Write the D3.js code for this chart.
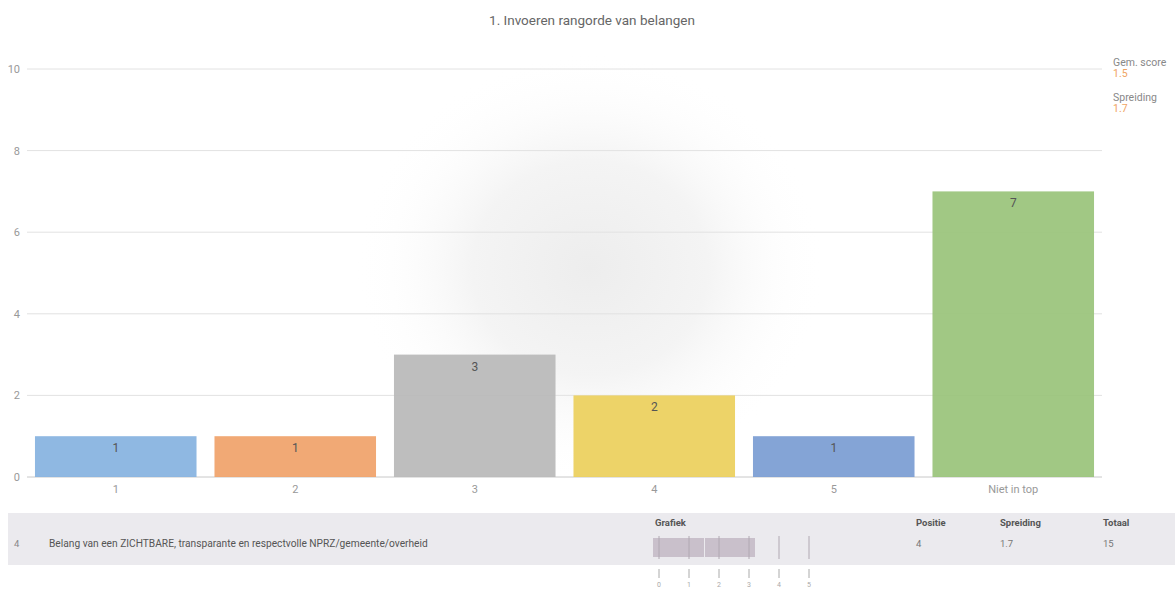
<!DOCTYPE html>
<html>
<head>
<meta charset="utf-8">
<script src="https://cdn.jsdelivr.net/npm/d3@7"></script>
<style>
  body { margin: 0; background: #fff; font-family: Roboto, "Noto Sans", sans-serif; }
  svg { display: block; }
</style>
</head>
<body>
<svg id="chart" width="1175" height="589"></svg>
<script>
var categories = ["1", "2", "3", "4", "5", "Niet in top"];
var counts = [1, 1, 3, 2, 1, 7];
var barColors = ["#86b3e0", "#f0a26a", "#b9b9b9", "#ecd05c", "#7b9dd3", "#9ac47b"];
var yTicks = [0, 2, 4, 6, 8, 10];
var title = "1. Invoeren rangorde van belangen";

var gemScore = 1.5;
var spreiding = 1.7;
var positie = 4;
var totaal = 15;
var belang = "Belang van een ZICHTBARE, transparante en respectvolle NPRZ/gemeente/overheid";
var tableHeads = ["Positie", "Spreiding", "Totaal"];
var tableVals = [positie, spreiding, totaal];
var miniTicks = [0, 1, 2, 3, 4, 5];

var svg = d3.select("#chart");

// soft shadow blob behind the plot
var defs = svg.append("defs");
var grad = defs.append("radialGradient").attr("id", "blob");
grad.append("stop").attr("offset", "0%").attr("stop-color", "#ededed");
grad.append("stop").attr("offset", "50%").attr("stop-color", "#f4f4f4");
grad.append("stop").attr("offset", "100%").attr("stop-color", "#fff").attr("stop-opacity", 0);
svg.append("ellipse")
  .attr("cx", 590).attr("cy", 268)
  .attr("rx", 235).attr("ry", 215)
  .attr("fill", "url(#blob)");

svg.append("text")
  .attr("x", 592).attr("y", 25)
  .attr("text-anchor", "middle")
  .style("font-size", "13.5px")
  .style("fill", "#666")
  .text(title);

var x = d3.scaleBand().domain(categories)
  .range([26, 1103])
  .paddingInner(0.1)
  .paddingOuter(0.05);

var y = d3.scaleLinear().domain([0, 10])
  .range([477, 69]);

// gridlines
svg.append("g").selectAll("line")
  .data(yTicks)
  .enter()
  .append("line")
    .attr("x1", 27).attr("x2", 1102)
    .attr("y1", function(d) { return y(d) })
    .attr("y2", function(d) { return y(d) })
    .attr("stroke", function(d) { return d == 0 ? "#c8c8c8" : "#e2e2e2" })
    .attr("stroke-width", 1);

svg.append("g").selectAll("text")
  .data(yTicks)
  .enter()
  .append("text")
    .attr("x", 20)
    .attr("y", function(d) { return y(d) + 4 })
    .attr("text-anchor", "end")
    .style("font-size", "11px")
    .style("fill", "#999")
    .text(function(d) { return d });

var data = categories.map(function(c, i) {
  return { cat: c, value: counts[i], color: barColors[i] };
});

svg.append("g").selectAll("rect")
  .data(data)
  .enter()
  .append("rect")
    .attr("x", function(d) { return x(d.cat) })
    .attr("y", function(d) { return y(d.value) })
    .attr("width", x.bandwidth())
    .attr("height", function(d) { return y(0) - y(d.value) })
    .attr("fill", function(d) { return d.color })
    .attr("fill-opacity", 0.93);

svg.append("g").selectAll("text")
  .data(data)
  .enter()
  .append("text")
    .attr("x", function(d) { return x(d.cat) + x.bandwidth() / 2 })
    .attr("y", function(d) { return y(d.value) + 16 })
    .attr("text-anchor", "middle")
    .style("font-size", "12px")
    .style("fill", "#555")
    .text(function(d) { return d.value });

svg.append("g").selectAll("text")
  .data(categories)
  .enter()
  .append("text")
    .attr("x", function(d) { return x(d) + x.bandwidth() / 2 })
    .attr("y", 493)
    .attr("text-anchor", "middle")
    .style("font-size", "11px")
    .style("fill", "#999")
    .text(function(d) { return d });

// legend on the right
var legend = [["Gem. score", gemScore], ["Spreiding", spreiding]];
var lg = svg.append("g").selectAll("g")
  .data(legend)
  .enter()
  .append("g")
    .attr("transform", function(d, i) { return "translate(1113," + (66 + i * 35) + ")" });
lg.append("text")
  .style("font-size", "10.5px").style("fill", "#888")
  .text(function(d) { return d[0] });
lg.append("text")
  .attr("y", 11)
  .style("font-size", "10.5px").style("fill", "#f0a462")
  .text(function(d) { return d[1] });

// table row
svg.append("rect")
  .attr("x", 8).attr("y", 513)
  .attr("width", 1167).attr("height", 52)
  .attr("fill", "#ebeaee");

svg.append("text")
  .attr("x", 14).attr("y", 547)
  .style("font-size", "9.5px").style("fill", "#888")
  .text(positie);
svg.append("text")
  .attr("x", 49).attr("y", 547)
  .style("font-size", "10.2px").style("fill", "#555")
  .text(belang);

svg.append("text")
  .attr("x", 655).attr("y", 526)
  .style("font-size", "9.5px").style("font-weight", "bold").style("fill", "#555")
  .text("Grafiek");

var colX = [916, 1000, 1103];
tableHeads.forEach(function(h, i) {
  svg.append("text")
    .attr("x", colX[i]).attr("y", 526)
    .style("font-size", "9.5px").style("font-weight", "bold").style("fill", "#555")
    .text(h);
  svg.append("text")
    .attr("x", colX[i]).attr("y", 547)
    .style("font-size", "9.5px").style("fill", "#777")
    .text(tableVals[i]);
});

// mini chart: mean +/- spread
var mx = d3.scaleLinear().domain([0, 5]).range([659, 809]);
var mini = svg.append("g");
mini.append("rect")
  .attr("x", mx(gemScore - spreiding)).attr("y", 538)
  .attr("width", mx(gemScore) - mx(gemScore - spreiding)).attr("height", 19)
  .attr("fill", "#c9c0cb");
mini.append("rect")
  .attr("x", mx(gemScore) + 1).attr("y", 538)
  .attr("width", mx(gemScore + spreiding) - mx(gemScore) - 1).attr("height", 19)
  .attr("fill", "#c9c0cb");
mini.selectAll(".in")
  .data(miniTicks)
  .enter()
  .append("line")
    .attr("x1", function(d) { return mx(d) }).attr("x2", function(d) { return mx(d) })
    .attr("y1", 536).attr("y2", 559)
    .attr("stroke", "#b0a8b2").attr("stroke-width", 1);
mini.selectAll(".out")
  .data(miniTicks)
  .enter()
  .append("line")
    .attr("x1", function(d) { return mx(d) }).attr("x2", function(d) { return mx(d) })
    .attr("y1", 569).attr("y2", 578)
    .attr("stroke", "#aaa").attr("stroke-width", 1);
mini.selectAll("text")
  .data(miniTicks)
  .enter()
  .append("text")
    .attr("x", function(d) { return mx(d) }).attr("y", 587)
    .attr("text-anchor", "middle")
    .style("font-size", "7px").style("fill", "#aaa")
    .text(function(d) { return d });
</script>
</body>
</html>
